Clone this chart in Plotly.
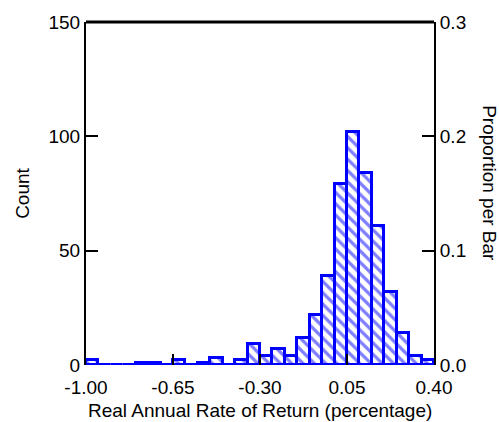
import numpy as np
import plotly.graph_objects as go

# Histogram bins (left edges) and counts
bin_width = 0.05
bin_lefts = [-1.00, -0.95, -0.90, -0.85, -0.80, -0.75, -0.70, -0.65, -0.60, -0.55,
             -0.50, -0.45, -0.40, -0.35, -0.30, -0.25, -0.20, -0.15, -0.10, -0.05,
             0.00, 0.05, 0.10, 0.15, 0.20, 0.25, 0.30, 0.35]
counts = [2, 0, 0, 0, 1, 1, 0, 2, 0, 1,
          3, 0, 2, 9, 4, 7, 4, 12, 22, 39,
          79, 102, 84, 61, 32, 14, 4, 2]

x_ticks = [-1.00, -0.65, -0.30, 0.05, 0.40]
x_ticktext = ["-1.00", "-0.65", "-0.30", "0.05", "0.40"]
y_ticks = [0, 50, 100, 150]
y2_ticks = [0.0, 0.1, 0.2, 0.3]
y2_ticktext = ["0.0", "0.1", "0.2", "0.3"]

FONT = "Liberation Sans, Arial, sans-serif"
BLUE = "#0000ff"

centers = [b + bin_width / 2 for b in bin_lefts]

fig = go.Figure()
fig.add_trace(go.Bar(
    x=centers, y=counts, width=bin_width,
    marker=dict(color="white",
                line=dict(color=BLUE, width=3),
                pattern=dict(shape="\\", fgcolor=BLUE, bgcolor="white",
                             size=8, solidity=0.4)),
    showlegend=False,
))
# invisible trace for secondary axis
fig.add_trace(go.Scatter(x=[None], y=[None], yaxis="y2", showlegend=False))

fig.update_layout(
    width=499, height=422,
    margin=dict(l=86, r=65, t=15, b=57),
    plot_bgcolor="white", paper_bgcolor="white",
    font=dict(family=FONT, size=19, color="black"),
    bargap=0,
    xaxis=dict(range=[-1.0, 0.4], tickvals=x_ticks, ticktext=x_ticktext,
               ticks="inside", ticklen=11, tickwidth=2, tickcolor="black",
               ticklabelstandoff=9,
               showline=False, showgrid=False, zeroline=False),
    yaxis=dict(range=[0, 150], tickvals=y_ticks,
               ticks="inside", ticklen=12, tickwidth=2, tickcolor="black",
               showline=True, linecolor="black", linewidth=2,
               showgrid=False, zeroline=False),
    yaxis2=dict(range=[0, 0.3], tickvals=y2_ticks, ticktext=y2_ticktext,
                overlaying="y", side="right",
                ticks="inside", ticklen=12, tickwidth=2, tickcolor="black",
                showline=True, linecolor="black", linewidth=2,
                showgrid=False, zeroline=False),
    shapes=[dict(type="line", xref="paper", yref="paper", x0=0, x1=1, y0=1, y1=1,
                 line=dict(color="black", width=3))],
    annotations=[
        dict(text="Real Annual Rate of Return (percentage)", xref="paper", yref="paper",
             x=0.5, y=-0.132, showarrow=False, xanchor="center", yanchor="middle"),
        dict(text="Count", xref="paper", yref="paper", x=-0.181, y=0.499,
             showarrow=False, textangle=-90, xanchor="center", yanchor="middle"),
        dict(text="Proportion per Bar", xref="paper", yref="paper", x=1.161, y=0.53,
             showarrow=False, textangle=90, xanchor="center", yanchor="middle"),
    ],
)

fig.write_html("out.html")
